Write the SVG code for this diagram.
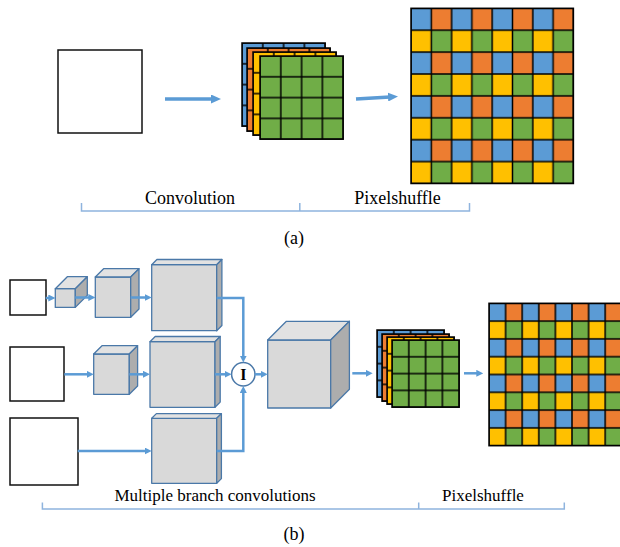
<svg xmlns="http://www.w3.org/2000/svg" width="620" height="547" viewBox="0 0 620 547">
<style>
.wsq{fill:#fff;stroke:#111;stroke-width:1.5}
.front{fill:#D9D9D9;stroke:#4A78A8;stroke-width:1.3;stroke-linejoin:round}
.top{fill:#E2E2E2;stroke:#4A78A8;stroke-width:1.3;stroke-linejoin:round}
.side{fill:#ADADAD;stroke:#4A78A8;stroke-width:1.3;stroke-linejoin:round}
.con{fill:none;stroke:#5B9BD5;stroke-width:2.5}
.conA{fill:none;stroke:#5B9BD5;stroke-width:3.5}
.br{fill:none;stroke:#8FB4DE;stroke-width:1.5}
.lbl{fill:#000;text-anchor:middle}
.gl{stroke:#000;stroke-width:1.5}
</style>
<defs>
<marker id="ah" markerUnits="userSpaceOnUse" markerWidth="7" markerHeight="7" viewBox="0 0 7 7" refX="2" refY="3.5" orient="auto"><path d="M0,0 L7,3.5 L0,7 Z" fill="#5B9BD5"/></marker>
<marker id="ahA" markerUnits="userSpaceOnUse" markerWidth="10" markerHeight="9" viewBox="0 0 10 9" refX="2" refY="4.5" orient="auto"><path d="M0,0 L10,4.5 L0,9 Z" fill="#5B9BD5"/></marker>
<pattern id="checkA" patternUnits="userSpaceOnUse" width="40.6" height="43.8">
<rect width="20.3" height="21.9" fill="#5B9BD5"/>
<rect x="20.3" width="20.3" height="21.9" fill="#ED7D31"/>
<rect y="21.9" width="20.3" height="21.9" fill="#FFC000"/>
<rect x="20.3" y="21.9" width="20.3" height="21.9" fill="#70AD47"/>
<path d="M0,0H40.6V43.8H0Z M20.3,0V43.8 M0,21.9H40.6" fill="none" class="gl"/>
</pattern>
<pattern id="checkB" patternUnits="userSpaceOnUse" width="33.2" height="35.6">
<rect width="16.6" height="17.8" fill="#5B9BD5"/>
<rect x="16.6" width="16.6" height="17.8" fill="#ED7D31"/>
<rect y="17.8" width="16.6" height="17.8" fill="#FFC000"/>
<rect x="16.6" y="17.8" width="16.6" height="17.8" fill="#70AD47"/>
<path d="M0,0H33.2V35.6H0Z M16.6,0V35.6 M0,17.8H33.2" fill="none" class="gl"/>
</pattern>
<pattern id="gridA" patternUnits="userSpaceOnUse" width="20.8" height="20.8">
<path d="M0,0H20.8V20.8H0Z" fill="none" class="gl"/>
</pattern>
<pattern id="gridB" patternUnits="userSpaceOnUse" width="16.8" height="16.8">
<path d="M0,0H16.8V16.8H0Z" fill="none" class="gl"/>
</pattern>
</defs>

<!-- (a) -->
<g id="a-input"><rect class="wsq" x="58" y="50" width="84" height="83"/></g>
<g id="a-stack">
<g transform="translate(242,43)"><rect width="83.2" height="83.2" fill="#5B9BD5"/><rect width="83.2" height="83.2" fill="url(#gridA)" class="gl"/></g>
<g transform="translate(247,48)"><rect width="83.2" height="83.2" fill="#ED7D31"/><rect width="83.2" height="83.2" fill="url(#gridA)" class="gl"/></g>
<g transform="translate(253,52)"><rect width="83.2" height="83.2" fill="#FFC000"/><rect width="83.2" height="83.2" fill="url(#gridA)" class="gl"/></g>
<g transform="translate(260,56)"><rect width="83.2" height="83.2" fill="#70AD47"/><rect width="83.2" height="83.2" fill="url(#gridA)" class="gl"/></g>
</g>
<g id="a-output" transform="translate(411,8.3)"><rect width="162.4" height="175.2" fill="url(#checkA)" class="gl"/></g>

<!-- (b) nodes -->
<g id="b-in1"><rect class="wsq" x="10" y="280" width="36" height="35"/></g>
<g id="b-in2"><rect class="wsq" x="10" y="347" width="54" height="54"/></g>
<g id="b-in3"><rect class="wsq" x="10" y="418" width="68" height="67"/></g>

<g id="b-cube1">
<rect class="front" x="55.3" y="288.7" width="20" height="18.7"/>
<polygon class="top" points="55.3,288.7 67.3,276.7 87.3,276.7 75.3,288.7"/>
<polygon class="side" points="75.3,288.7 87.3,276.7 87.3,295.4 75.3,307.4"/>
</g>
<g id="b-cube2">
<rect class="front" x="95.3" y="277" width="35.4" height="40.3"/>
<polygon class="top" points="95.3,277 103.6,268.7 139,268.7 130.7,277"/>
<polygon class="side" points="130.7,277 139,268.7 139,309 130.7,317.3"/>
</g>
<g id="b-cube3">
<rect class="front" x="151.7" y="264.7" width="65" height="66"/>
<polygon class="top" points="151.7,264.7 156.9,259.5 221.9,259.5 216.7,264.7"/>
<polygon class="side" points="216.7,264.7 221.9,259.5 221.9,325.5 216.7,330.7"/>
</g>
<g id="b-cube4">
<rect class="front" x="93.7" y="354" width="35.6" height="40.3"/>
<polygon class="top" points="93.7,354 102,345.7 137.6,345.7 129.3,354"/>
<polygon class="side" points="129.3,354 137.6,345.7 137.6,386 129.3,394.3"/>
</g>
<g id="b-cube5">
<rect class="front" x="150" y="341.7" width="65" height="65.6"/>
<polygon class="top" points="150,341.7 155.2,336.5 220.2,336.5 215,341.7"/>
<polygon class="side" points="215,341.7 220.2,336.5 220.2,402.1 215,407.3"/>
</g>
<g id="b-cube6">
<rect class="front" x="151.7" y="418.3" width="65" height="65"/>
<polygon class="top" points="151.7,418.3 156.4,413.6 221.4,413.6 216.7,418.3"/>
<polygon class="side" points="216.7,418.3 221.4,413.6 221.4,478.6 216.7,483.3"/>
</g>
<g id="b-concat">
<circle cx="243.3" cy="374.3" r="11.7" fill="#fff" stroke="#4A78A8" stroke-width="1.5"/>
<text class="lbl" x="243.3" y="380" font-family="Liberation Serif, Times New Roman, serif" font-size="16" font-weight="bold">I</text>
</g>
<g id="b-cube7">
<rect class="front" x="267.7" y="340" width="63" height="68"/>
<polygon class="top" points="267.7,340 286.4,321.3 349.4,321.3 330.7,340"/>
<polygon class="side" points="330.7,340 349.4,321.3 349.4,389.3 330.7,408"/>
</g>
<g id="b-stack">
<g transform="translate(377,330)"><rect width="67.2" height="67.2" fill="#5B9BD5"/><rect width="67.2" height="67.2" fill="url(#gridB)" class="gl"/></g>
<g transform="translate(382,334)"><rect width="67.2" height="67.2" fill="#ED7D31"/><rect width="67.2" height="67.2" fill="url(#gridB)" class="gl"/></g>
<g transform="translate(387,337)"><rect width="67.2" height="67.2" fill="#FFC000"/><rect width="67.2" height="67.2" fill="url(#gridB)" class="gl"/></g>
<g transform="translate(392,340)"><rect width="67.2" height="67.2" fill="#70AD47"/><rect width="67.2" height="67.2" fill="url(#gridB)" class="gl"/></g>
</g>
<g id="b-output" transform="translate(489,303.3)"><rect width="132.8" height="142.4" fill="url(#checkB)" class="gl"/></g>

<!-- connectors -->
<g id="connectors">
<path class="conA" d="M165,99 H213" marker-end="url(#ahA)"/>
<path class="conA" d="M356,99 L390,96.9" marker-end="url(#ahA)"/>
<path class="con" d="M45.7,298 H50.3" marker-end="url(#ah)"/>
<path class="con" d="M75.3,297.5 H90.3" marker-end="url(#ah)"/>
<path class="con" d="M130.7,297.5 H146.7" marker-end="url(#ah)"/>
<path class="con" d="M216.7,298 H243.3 V357.6" marker-end="url(#ah)"/>
<path class="con" d="M64.3,374.3 H88.7" marker-end="url(#ah)"/>
<path class="con" d="M129.3,374.3 H145" marker-end="url(#ah)"/>
<path class="con" d="M215,374.3 H226.6" marker-end="url(#ah)"/>
<path class="con" d="M77.7,451 H146.7" marker-end="url(#ah)"/>
<path class="con" d="M216.7,451 H243.3 V391" marker-end="url(#ah)"/>
<path class="con" d="M255,374.3 H262.7" marker-end="url(#ah)"/>
<path class="con" d="M352.3,373.3 H367.7" marker-end="url(#ah)"/>
<path class="con" d="M464,373.3 H478.3" marker-end="url(#ah)"/>
</g>

<!-- brackets and labels -->
<g id="labels" font-family="Liberation Serif, Times New Roman, serif">
<path class="br" d="M81.5,203 V211 H469.5 V203 M299.8,203 V211"/>
<text class="lbl" x="190" y="204" font-size="18">Convolution</text>
<text class="lbl" x="397.5" y="204" font-size="18">Pixelshuffle</text>
<text class="lbl" x="294" y="244" font-size="18">(a)</text>
<path class="br" d="M42.4,502.5 V509 H564.3 V502.5 M418.7,502.5 V509"/>
<text class="lbl" x="215" y="501" font-size="17">Multiple branch convolutions</text>
<text class="lbl" x="483" y="501" font-size="17">Pixelshuffle</text>
<text class="lbl" x="294" y="540" font-size="18">(b)</text>
</g>
</svg>
